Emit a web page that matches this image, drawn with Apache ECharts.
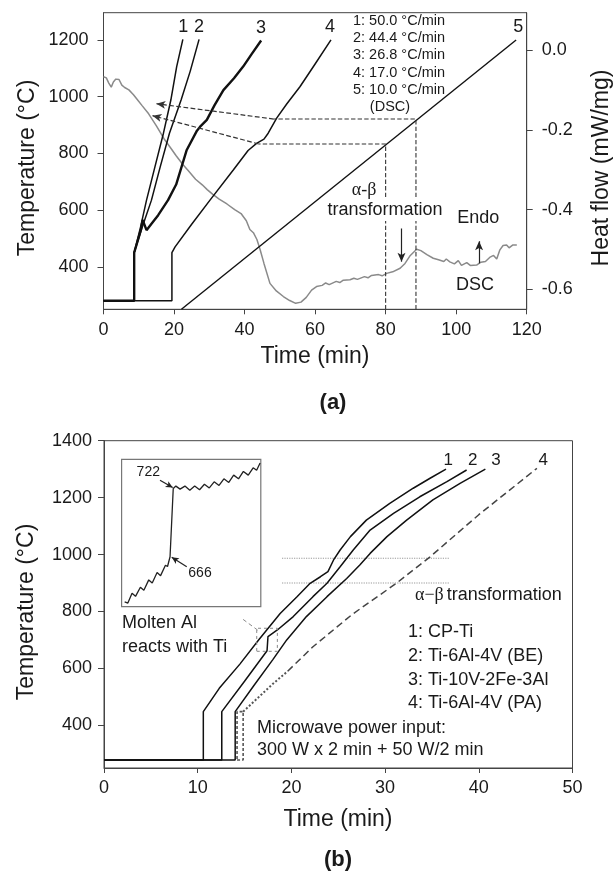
<!DOCTYPE html>
<html><head><meta charset="utf-8">
<script src="https://cdn.jsdelivr.net/npm/echarts@6/dist/echarts.min.js"></script>
<style>html,body{margin:0;padding:0;background:#fff}#c{width:615px;height:874px}</style>
</head><body><div id="c"></div>
<script>
// ---------- Panel (a) data ----------
const aTempTicks = [400, 600, 800, 1000, 1200];
const aHeatTicks = [-0.6, -0.4, -0.2, 0.0];
const aCurve1 = [[0,280],[8.7,280],[8.7,450],[10.5,540],[12.2,635],[14.6,753],[17.0,871],[19.1,988],[20.75,1106],[22.5,1202]];
const aCurve2 = [[0,280],[8.7,280],[8.7,450],[11,540],[13.6,635],[16.1,753],[18.7,871],[22,988],[24.6,1090],[27.1,1202]];
const aCurve3 = [[0,280],[8.7,280],[8.7,450],[10.6,530],[11.1,565],[12.2,529],[13.5,550],[15.5,582],[18.3,635],[20.6,690],[23.6,812],[26.5,880],[27.4,894],[29.3,918],[31.5,970],[34,1023],[37,1065],[39.6,1106],[42,1150],[44.7,1198]];
const aCurve4 = [[0,280],[19.4,280],[19.4,450],[20.3,470],[25,550],[30.2,635],[36.8,741],[41,810],[43.4,835],[45.5,850],[46.7,871],[49.1,924],[52,975],[55.7,1035],[60,1115],[64.5,1200]];
const aCurve5 = [[22.1,250],[117,1200]];
const aDSC = [[0,-0.067],[0.8,-0.07],[1.5,-0.083],[2.2,-0.093],[2.8,-0.08],[3.5,-0.073],[4.4,-0.074],[5.2,-0.088],[6,-0.094],[7.2,-0.1],[8.5,-0.112],[9.4,-0.122],[11,-0.14],[12.8,-0.16],[15,-0.19],[17.2,-0.223],[19,-0.245],[20.6,-0.265],[22.5,-0.287],[24,-0.302],[26.1,-0.324],[28,-0.338],[29.4,-0.35],[31,-0.362],[32.8,-0.374],[35,-0.386],[37.2,-0.4],[39,-0.41],[40.5,-0.428],[41.5,-0.45],[42.5,-0.458],[43.5,-0.475],[44.4,-0.5],[45.5,-0.535],[47.2,-0.585],[49,-0.604],[51,-0.618],[52.8,-0.628],[54.5,-0.635],[56,-0.632],[57.5,-0.62],[59,-0.602],[60.4,-0.593],[62,-0.59],[63,-0.584],[64,-0.588],[66,-0.58],[67,-0.583],[68,-0.577],[69.9,-0.576],[71,-0.572],[72,-0.575],[74,-0.568],[75,-0.571],[76,-0.565],[78,-0.563],[79,-0.566],[80.3,-0.56],[82,-0.556],[84.1,-0.547],[85.5,-0.535],[87,-0.515],[88.8,-0.4995],[90,-0.503],[91.7,-0.513],[93.5,-0.522],[95,-0.526],[96.5,-0.53],[97.2,-0.524],[98.2,-0.531],[99.5,-0.536],[100.6,-0.528],[101.5,-0.54],[103,-0.533],[104,-0.54],[105.8,-0.539],[107,-0.532],[108.3,-0.53],[109.5,-0.52],[110.6,-0.515],[111.5,-0.524],[112.4,-0.501],[113.3,-0.49],[114.3,-0.489],[115,-0.496],[116,-0.489],[117.2,-0.489]];
// dashed guides (time, temperature)
const aGuideUpper = [[88.6,250],[88.6,921],[48.3,921]];
const aGuideUpperArrow = [[48.3,921],[15,975]];
const aGuideLower = [[80,250],[80,833],[44,833]];
const aGuideLowerArrow = [[44,833],[13.9,933]];
const aArrowDown = [[84.5,535],[84.5,418]];
const aArrowUp = [[106.5,412],[106.5,490]];

// ---------- Panel (b) data ----------
const bTempTicks = [400, 600, 800, 1000, 1200, 1400];
const bCurve1 = [[0,278],[10.6,278],[10.6,448],[12.3,530],[14.5,615],[16.5,700],[18.8,793],[20.6,852],[22.0,899],[23.1,922],[23.9,940],[24.5,981],[25.2,1016],[26.3,1063],[28.0,1121],[30.5,1180],[33.0,1233],[34.8,1268],[36.5,1300]];
const bCurve2 = [[0,278],[12.57,278],[12.57,448],[15,555],[17.4,662],[17.5,712],[18.5,735],[20.2,782],[22.3,852],[23.8,899],[25.2,957],[26.6,1016],[28.4,1086],[30.9,1145],[33.7,1203],[36.6,1256],[38.7,1297]];
const bCurve3 = [[0,278],[14.0,278],[14.0,448],[16,540],[18,630],[19.5,700],[21.6,782],[23.8,852],[25.9,916],[27.3,963],[28.4,1004],[30.2,1063],[32.3,1121],[35.1,1192],[38.0,1250],[40.7,1300]];
const bCurve4Start = [[14.2,278],[14.85,278],[14.85,448],[14.2,448],[14.2,278]];
const bCurve4Lower = [[14.85,448],[18,545],[19.6,590]];
const bCurve4Upper = [[19.6,590],[22.3,676],[26.5,790],[31.2,899],[34.8,992],[40,1140],[46.2,1303]];
const bAlphaBetaUpper = [[19,987],[36.9,987]];
const bAlphaBetaLower = [[19,900],[36.9,900]];
const bZoomBox = [[16.3,660],[18.5,660],[18.5,741],[16.3,741],[16.3,660]];
const bCallout = [[14.85,772],[16.5,732]];
// inset: relative time (0-100) vs temperature
const insetCurve = [[2.2,629],[4.5,628],[7.5,636],[10,633.5],[13.5,641],[16,638.5],[19.5,647],[22,644.5],[25.5,653],[28,650.5],[31.5,659],[33,658],[34.8,666],[37.1,722],[39,724],[42,721.5],[45.5,724],[49,720.5],[52.5,724],[56,721],[59.5,725.5],[63,722.5],[66.5,727.5],[70,724.5],[73.5,730],[77,727],[80.5,733],[84,730],[87.5,736],[91,733],[94.5,739],[97,737],[99.5,743]];
const inset722Arrow = [[27.6,728.8],[36.7,722.8]];
const inset666Arrow = [[46.8,657.8],[36,665.5]];

const FONT = '"Liberation Sans", Arial, Helvetica, sans-serif';
const SERIF = '"Liberation Serif", "Times New Roman", serif';
const AX = '#444';
const TXT = '#1a1a1a';

function T(text, x, y, o) {
  o = o || {};
  return {
    type: 'text', x: x, y: y, rotation: o.rot || 0, z: 100,
    style: {
      text: text, x: 0, y: 0,
      fill: o.fill || TXT,
      font: (o.weight || 'normal') + ' ' + (o.size || 18) + 'px ' + (o.family || FONT),
      align: o.align || 'center', verticalAlign: 'middle',
      backgroundColor: o.bg, padding: o.pad
    }
  };
}

function xAx(grid, min, max, interval, margin) {
  return {
    gridIndex: grid, type: 'value', min: min, max: max, interval: interval,
    axisLine: { show: true, onZero: false, lineStyle: { color: AX, width: 1 } },
    axisTick: { show: true, length: 5, lineStyle: { color: AX } },
    axisLabel: { fontSize: 18, fontFamily: FONT, color: TXT, margin: margin, formatter: v => String(v) },
    splitLine: { show: false }
  };
}
function yAx(grid, min, max, ticks, margin, pos, fmt) {
  return {
    gridIndex: grid, type: 'value', min: min, max: max, position: pos || 'left',
    axisLine: { show: true, onZero: false, lineStyle: { color: AX, width: 1 } },
    axisTick: { show: true, length: 6, customValues: ticks, lineStyle: { color: AX } },
    axisLabel: { fontSize: 18, fontFamily: FONT, color: TXT, margin: margin, customValues: ticks, formatter: fmt || (v => String(v)) },
    splitLine: { show: false }
  };
}
function line(x, y, data, color, width, type) {
  return {
    type: 'line', xAxisIndex: x, yAxisIndex: y, data: data, symbol: 'none', showSymbol: false,
    lineStyle: { color: color, width: width, type: type || 'solid' }, z: 3, silent: true
  };
}
function arrows(segs, color, dashed) {
  return {
    silent: true, symbol: ['none', 'arrow'], symbolSize: [6, 9],
    label: { show: false },
    lineStyle: { color: color, width: 1.2, type: dashed ? 'dashed' : 'solid' },
    data: segs.map(s => [{ coord: s[0] }, { coord: s[1] }])
  };
}

const chart = echarts.init(document.getElementById('c'), null, { renderer: 'canvas' });

const guideU = line(0, 0, aGuideUpper, '#333', 1.1, 'dashed');
guideU.markLine = arrows([aGuideUpperArrow, aGuideLowerArrow], '#333', true);
const guideL = line(0, 0, aGuideLower, '#333', 1.1, 'dashed');
const arrowSeries = line(0, 0, [], '#222', 1);
arrowSeries.markLine = arrows([aArrowDown, aArrowUp], '#222', false);
const insetS = line(3, 3, insetCurve, '#222', 1.3);
insetS.markLine = arrows([inset722Arrow, inset666Arrow], '#222', false);
insetS.markLine.symbolSize = [5, 7];

const option = {
  animation: false,
  backgroundColor: '#fff',
  grid: [
    { left: 103.5, top: 12.7, width: 423.2, height: 296.6, show: true, borderColor: AX, borderWidth: 1 },
    { left: 104, top: 440.7, width: 468.5, height: 327.3, show: true, borderColor: AX, borderWidth: 1 },
    { left: 121.6, top: 459.3, width: 139.2, height: 147.4, show: true, borderColor: '#777', borderWidth: 1.2 },
    { left: 121.6, top: 459.3, width: 139.2, height: 147.4, show: false }
  ],
  xAxis: [
    xAx(0, 0, 120, 20, 12),
    xAx(1, 0, 50, 10, 11),
    { gridIndex: 2, type: 'value', min: 0, max: 1, show: false },
    { gridIndex: 3, type: 'value', min: 0, max: 100, show: false }
  ],
  yAxis: [
    yAx(0, 250, 1296, aTempTicks, 15, 'left'),
    yAx(0, -0.65, 0.0935, aHeatTicks, 15, 'right', v => v.toFixed(1)),
    yAx(1, 250, 1400, bTempTicks, 12, 'left'),
    { gridIndex: 3, type: 'value', min: 625, max: 746, show: false }
  ],
  series: [
    // panel a
    line(0, 1, aDSC, '#8a8a8a', 1.5),
    line(0, 0, aCurve5, '#111', 1.4),
    line(0, 0, aCurve4, '#111', 1.5),
    line(0, 0, aCurve3, '#111', 2.4),
    line(0, 0, aCurve2, '#111', 1.5),
    line(0, 0, aCurve1, '#111', 1.5),
    guideU, guideL, arrowSeries,
    // panel b
    line(1, 2, bAlphaBetaUpper, '#999', 1.2, 'dotted'),
    line(1, 2, bAlphaBetaLower, '#999', 1.2, 'dotted'),
    line(1, 2, bCurve4Start, '#555', 1.6, [3, 2]),
    line(1, 2, bCurve4Lower, '#555', 2, [2, 2]),
    line(1, 2, bCurve4Upper, '#444', 1.5, [7, 4]),
    line(1, 2, bCurve3, '#111', 1.5),
    line(1, 2, bCurve2, '#111', 1.5),
    line(1, 2, bCurve1, '#111', 1.5),
    line(1, 2, bZoomBox, '#888', 1, [3, 3]),
    line(1, 2, bCallout, '#888', 1, [4, 3]),
    insetS
  ],
  graphic: [
    // panel a texts
    T('Temperature (°C)', 27.5, 168, { size: 23, rot: Math.PI / 2 }),
    T('Heat flow (mW/mg)', 602, 168, { size: 23, rot: Math.PI / 2 }),
    T('Time (min)', 315, 357, { size: 23 }),
    T('(a)', 333, 403, { size: 22, weight: 'bold' }),
    T('1', 183.3, 26.7), T('2', 199, 26.7), T('3', 261, 28.3), T('4', 330, 27), T('5', 518.3, 26.7),
    T('1: 50.0 °C/min', 353, 20.7, { size: 14.5, align: 'left' }),
    T('2: 44.4 °C/min', 353, 37.7, { size: 14.5, align: 'left' }),
    T('3: 26.8 °C/min', 353, 55, { size: 14.5, align: 'left' }),
    T('4: 17.0 °C/min', 353, 72.5, { size: 14.5, align: 'left' }),
    T('5: 10.0 °C/min', 353, 90, { size: 14.5, align: 'left' }),
    T('(DSC)', 390, 107.3, { size: 14.5 }),
    T('α-β', 364, 190, { size: 18, family: SERIF, bg: '#fff', pad: [0, 1] }),
    T('transformation', 385, 210, { size: 18, bg: '#fff', pad: [2, 1] }),
    T('Endo', 478.3, 218.3),
    T('DSC', 475, 285),
    // panel b texts
    T('Temperature (°C)', 26.5, 612, { size: 23, rot: Math.PI / 2 }),
    T('Time (min)', 338, 820, { size: 23 }),
    T('(b)', 338, 860, { size: 22, weight: 'bold' }),
    T('1', 448.3, 460, { size: 17 }), T('2', 472.7, 460.7, { size: 17 }), T('3', 496, 460, { size: 17 }), T('4', 543.3, 460, { size: 17 }),
    T('α−β', 415, 595, { size: 18, family: SERIF, align: 'left' }),
    T('transformation', 446.7, 595, { size: 18, align: 'left' }),
    T('1: CP-Ti', 408, 632, { size: 18, align: 'left' }),
    T('2: Ti-6Al-4V (BE)', 408, 656.5, { size: 18, align: 'left' }),
    T('3: Ti-10V-2Fe-3Al', 408, 680, { size: 18, align: 'left' }),
    T('4: Ti-6Al-4V (PA)', 408, 703.5, { size: 18, align: 'left' }),
    T('Microwave power input:', 257, 728.3, { size: 18, align: 'left' }),
    T('300 W x 2 min + 50 W/2 min', 257, 750, { size: 18, align: 'left' }),
    T('Molten Al', 122, 622.7, { size: 18, align: 'left' }),
    T('reacts with Ti', 122, 646.7, { size: 18, align: 'left' }),
    T('722', 148.3, 471.7, { size: 14 }),
    T('666', 200, 573.3, { size: 14 })
  ]
};
chart.setOption(option);
</script></body></html>
